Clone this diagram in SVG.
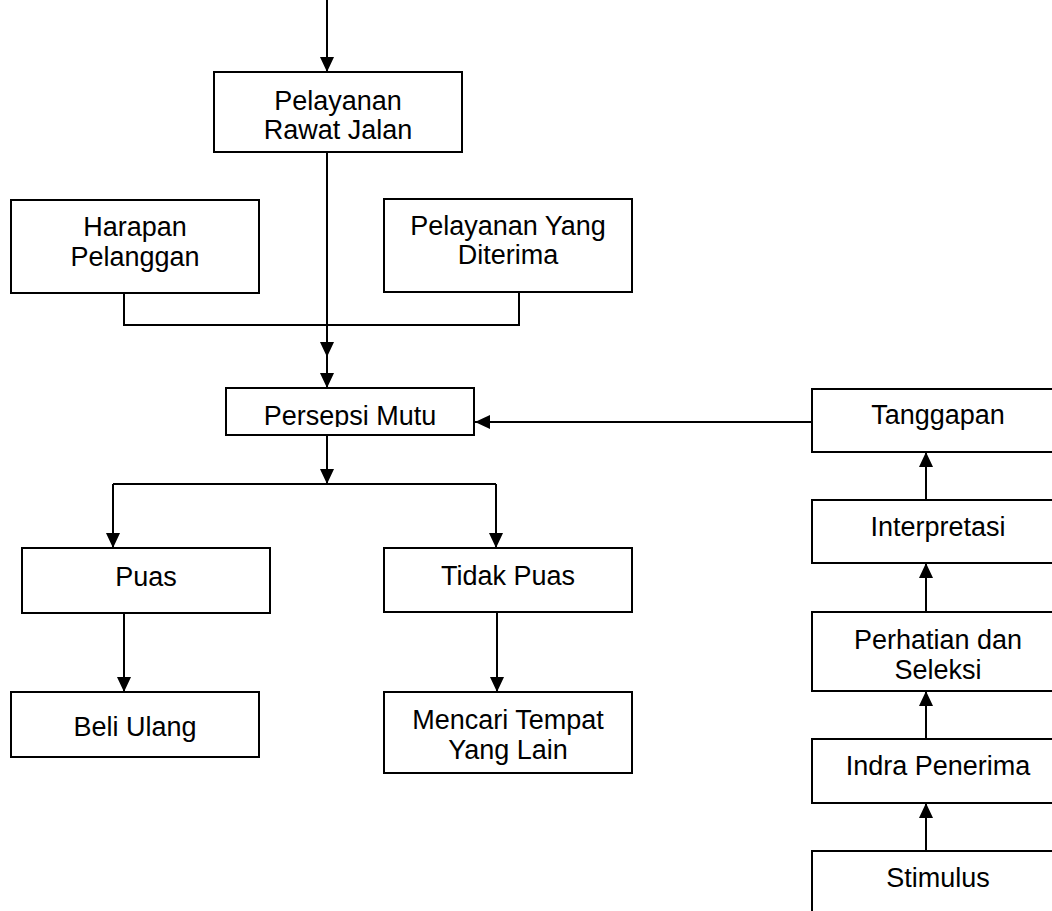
<svg xmlns="http://www.w3.org/2000/svg" width="1052" height="911" viewBox="0 0 1052 911">
<style>
.box{fill:#fff;stroke:#000;stroke-width:2}
.t{font-family:"Liberation Sans",Arial,sans-serif;font-size:27px;fill:#000;text-anchor:middle}
.c{fill:none;stroke:#000;stroke-width:2}
.a{marker-end:url(#ah)}
</style>
<defs>
<marker id="ah" markerWidth="15" markerHeight="14" viewBox="0 0 15 14" refX="15" refY="7" orient="auto" markerUnits="userSpaceOnUse"><path d="M0,0 L15,7 L0,14 z" fill="#000"/></marker>
<clipPath id="clipPM"><rect x="226" y="389" width="247" height="38"/></clipPath>
</defs>
<rect width="1052" height="911" fill="#fff"/>
<g id="connectors">
<path class="c a" d="M327,0 V72"/>
<path class="c" d="M327,152 V325"/>
<path class="c a" d="M327,325 V357"/>
<path class="c a" d="M327,357 V388"/>
<path class="c" d="M124,293 V325 H519 V292"/>
<path class="c a" d="M812,422 H475"/>
<path class="c a" d="M327,435 V484"/>
<path class="c" d="M113,484 H496"/>
<path class="c a" d="M113,484 V548"/>
<path class="c a" d="M496,484 V548"/>
<path class="c a" d="M124,613 V692"/>
<path class="c a" d="M497,612 V692"/>
<path class="c a" d="M926,500 V452"/>
<path class="c a" d="M926,612 V563"/>
<path class="c a" d="M926,739 V691"/>
<path class="c a" d="M926,851 V803"/>
</g>
<g id="n-rawat"><rect class="box" x="214" y="72" width="248" height="80"/><text class="t" x="338" y="110">Pelayanan</text><text class="t" x="338" y="139">Rawat Jalan</text></g>
<g id="n-harapan"><rect class="box" x="11" y="200" width="248" height="93"/><text class="t" x="135" y="236">Harapan</text><text class="t" x="135" y="266">Pelanggan</text></g>
<g id="n-diterima"><rect class="box" x="384" y="199" width="248" height="93"/><text class="t" x="508" y="235">Pelayanan Yang</text><text class="t" x="508" y="264">Diterima</text></g>
<g id="n-persepsi"><rect class="box" x="226" y="388" width="248" height="47"/><text class="t" x="350" y="425" clip-path="url(#clipPM)">Persepsi Mutu</text></g>
<g id="n-puas"><rect class="box" x="22" y="548" width="248" height="65"/><text class="t" x="146" y="586">Puas</text></g>
<g id="n-tidakpuas"><rect class="box" x="384" y="548" width="248" height="64"/><text class="t" x="508" y="585">Tidak Puas</text></g>
<g id="n-beli"><rect class="box" x="11" y="692" width="248" height="65"/><text class="t" x="135" y="736">Beli Ulang</text></g>
<g id="n-mencari"><rect class="box" x="384" y="692" width="248" height="81"/><text class="t" x="508" y="729">Mencari Tempat</text><text class="t" x="508" y="759">Yang Lain</text></g>
<g id="n-tanggapan"><rect class="box" x="812" y="389" width="260" height="63"/><text class="t" x="938" y="424">Tanggapan</text></g>
<g id="n-interpretasi"><rect class="box" x="812" y="500" width="260" height="63"/><text class="t" x="938" y="536">Interpretasi</text></g>
<g id="n-perhatian"><rect class="box" x="812" y="612" width="260" height="79"/><text class="t" x="938" y="649">Perhatian dan</text><text class="t" x="938" y="679">Seleksi</text></g>
<g id="n-indra"><rect class="box" x="812" y="739" width="260" height="64"/><text class="t" x="938" y="775">Indra Penerima</text></g>
<g id="n-stimulus"><rect class="box" x="812" y="851" width="260" height="80"/><text class="t" x="938" y="887">Stimulus</text></g>
</svg>
